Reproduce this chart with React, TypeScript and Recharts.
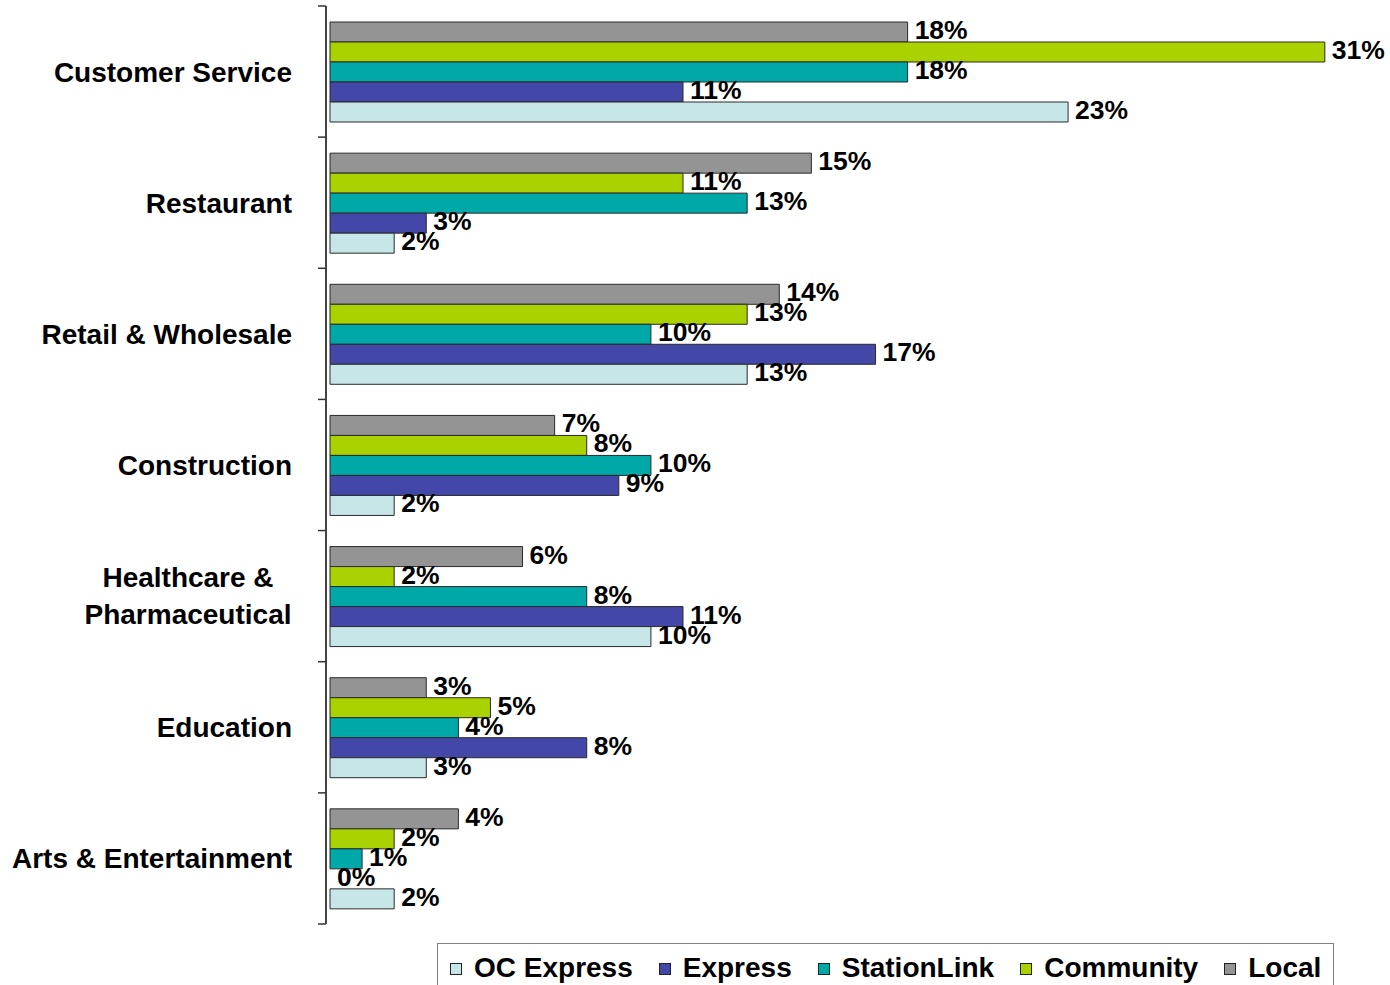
import React from 'react';
import { BarChart, Bar, XAxis, YAxis, Legend, LabelList, Cell } from 'recharts';

const categories = [
  'Customer Service',
  'Restaurant',
  'Retail & Wholesale',
  'Construction',
  'Healthcare &\nPharmaceutical',
  'Education',
  'Arts & Entertainment',
];
const local = [18, 15, 14, 7, 6, 3, 4];
const community = [31, 11, 13, 8, 2, 5, 2];
const stationLink = [18, 13, 10, 10, 8, 4, 1];
const express = [11, 3, 17, 9, 11, 8, 0];
const ocExpress = [23, 2, 13, 2, 10, 3, 2];

const seriesDefs = [
  { key: 'Local', values: local, color: '#949494' },
  { key: 'Community', values: community, color: '#AAD200' },
  { key: 'StationLink', values: stationLink, color: '#00A8A8' },
  { key: 'Express', values: express, color: '#4347A8' },
  { key: 'OC Express', values: ocExpress, color: '#C6E6E8' },
];
const legendOrder = ['OC Express', 'Express', 'StationLink', 'Community', 'Local'];

const data = categories.map((c, i) => {
  const row: any = { name: c };
  seriesDefs.forEach((s) => (row[s.key] = s.values[i]));
  return row;
});

const WIDTH = 1390;
const HEIGHT = 985;
const MARGIN = { top: 6, right: 1, bottom: 61, left: 0 };
const BAND = (HEIGHT - MARGIN.top - MARGIN.bottom) / categories.length;
const FONT = '"Liberation Sans", Arial, sans-serif';
const TICK_MARGIN = 34;

const YTick = (props: any) => {
  const { x, y, payload, index } = props;
  const axisX = x + TICK_MARGIN;
  const lines = String(payload.value).split('\n');
  const isLast = index === categories.length - 1;
  return (
    <g>
      <line x1={axisX - 8} x2={axisX} y1={y - BAND / 2} y2={y - BAND / 2} stroke="#333" strokeWidth={1.5} />
      {isLast && (
        <line x1={axisX - 8} x2={axisX} y1={y + BAND / 2} y2={y + BAND / 2} stroke="#333" strokeWidth={1.5} />
      )}
      {lines.length === 1 ? (
        <text x={x} y={y + 10} textAnchor="end" fontFamily={FONT} fontWeight="bold" fontSize={28} fill="#000">
          {lines[0]}
        </text>
      ) : (
        <text x={x - 104} y={y} textAnchor="middle" fontFamily={FONT} fontWeight="bold" fontSize={28} fill="#000">
          {lines.map((l, i) => (
            <tspan key={i} x={x - 104} y={y + 9 + (i - (lines.length - 1) / 2) * 37}>
              {l}
            </tspan>
          ))}
        </text>
      )}
    </g>
  );
};

const renderLabel = (props: any) => {
  const { x, y, width, height, value } = props;
  return (
    <text
      x={x + Math.max(width, 0) + 7}
      y={y + height / 2 + 7}
      fontFamily={FONT}
      fontWeight="bold"
      fontSize={26.5}
      fill="#000"
    >
      {value}%
    </text>
  );
};

const LegendBox = () => (
  <div
    style={{
      boxSizing: 'border-box',
      width: 897,
      height: 60,
      border: '1.5px solid #808080',
      display: 'flex',
      alignItems: 'flex-start',
      paddingLeft: 12,
      paddingTop: 9,
      fontFamily: FONT,
      fontWeight: 'bold',
      fontSize: 28,
      color: '#000',
      whiteSpace: 'nowrap',
    }}
  >
    {legendOrder.map((k) => {
      const s = seriesDefs.find((d) => d.key === k)!;
      return (
        <div key={k} style={{ display: 'flex', alignItems: 'center', marginRight: 26, lineHeight: '30px' }}>
          <span
            style={{
              display: 'inline-block',
              width: 10,
              height: 10,
              background: s.color,
              border: '1px solid #222',
              marginRight: 12,
              marginTop: 2,
            }}
          />
          <span>{k}</span>
        </div>
      );
    })}
  </div>
);

export default function App() {
  return (
    <div style={{ position: 'absolute', left: 0, top: 0, width: WIDTH, height: HEIGHT, background: '#fff' }}>
      <BarChart
        width={WIDTH}
        height={HEIGHT}
        data={data}
        layout="vertical"
        margin={MARGIN}
        barCategoryGap={16}
        barGap={0}
      >
        <XAxis type="number" hide domain={[0, 33]} padding={{ left: 4, right: 0 }} />
        <YAxis
          type="category"
          dataKey="name"
          width={326}
          axisLine={{ stroke: '#444', strokeWidth: 2 }}
          tickLine={false}
          tickSize={0}
          tickMargin={TICK_MARGIN}
          tick={<YTick />}
          interval={0}
        />
        <Legend
          layout="horizontal"
          verticalAlign="middle"
          align="center"
          content={<LegendBox />}
          wrapperStyle={{ left: 437, top: 943, width: 897, height: 60 }}
        />
        {seriesDefs.map((s) => (
          <Bar
            key={s.key}
            dataKey={s.key}
            fill={s.color}
            stroke="#2a2a2a"
            strokeWidth={1}
            minPointSize={0.01}
            isAnimationActive={false}
          >
            {s.values.map((v, i) => (
              <Cell key={i} fill={s.color} stroke={v === 0 ? 'none' : '#2a2a2a'} />
            ))}
            <LabelList dataKey={s.key} content={renderLabel} />
          </Bar>
        ))}
      </BarChart>
    </div>
  );
}
